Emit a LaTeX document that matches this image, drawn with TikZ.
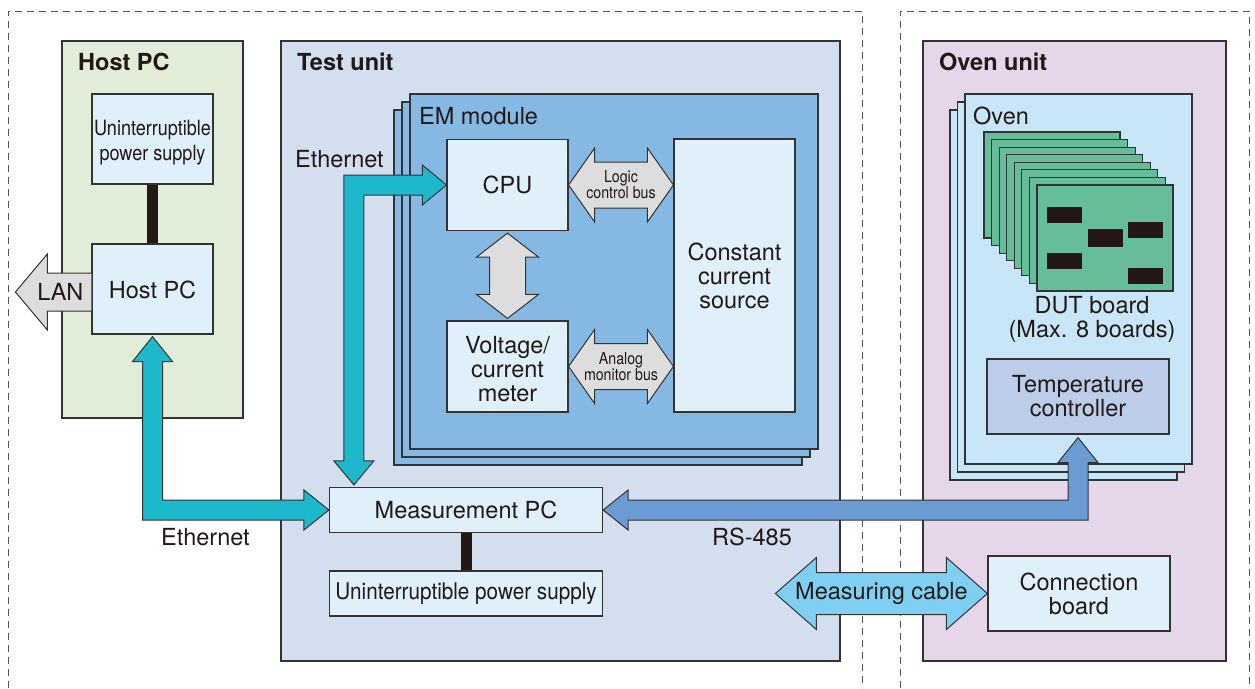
\documentclass[tikz,border=0pt]{standalone}
\usepackage{fontspec}
\setmainfont{TeX Gyre Heros}
\newfontfamily\narrowfont[FakeStretch=0.86]{TeX Gyre Heros}
\newfontfamily\upsfont[FakeStretch=0.9]{TeX Gyre Heros}
\usetikzlibrary{calc}

\definecolor{edge}{HTML}{333333}
\definecolor{framegray}{HTML}{555555}
\definecolor{cordblack}{HTML}{231816}
\definecolor{hostgreen}{HTML}{E1EDD8}
\definecolor{testblue}{HTML}{D3DEEF}
\definecolor{emblue}{HTML}{85B8E3}
\definecolor{blockfill}{HTML}{DFF0FB}
\definecolor{ovenpink}{HTML}{E6D6E9}
\definecolor{ovenfill}{HTML}{C8E6F7}
\definecolor{dutgreen}{HTML}{66BE98}
\definecolor{tcfill}{HTML}{BBCDE9}
\definecolor{netcyan}{HTML}{1DB8CC}
\definecolor{rsblue}{HTML}{6A9BD3}
\definecolor{cableblue}{HTML}{7FCFF3}
\definecolor{busgray}{HTML}{DDDDDD}

\begin{document}
\begin{tikzpicture}[x=1pt, y=-1pt, line join=miter, text=cordblack]
  \tikzset{
    unitbox/.style={draw=edge, line width=1.2pt},
    frame/.style={draw=framegray, line width=1pt, dash pattern=on 7pt off 5pt},
    block/.style={rectangle, draw=edge, line width=1.2pt, fill=blockfill, inner sep=2pt, align=center, font=\fontsize{23.5}{24}\selectfont},
    narrowblock/.style={block, font=\upsfont\fontsize{23}{25}\selectfont},
    sz/.style 2 args={minimum width=#1pt, minimum height=#2pt},
    title/.style={anchor=base west, inner sep=0pt, font=\bfseries\fontsize{23.5}{24}\selectfont},
    lbl/.style={anchor=base west, inner sep=0pt, font=\fontsize{23.5}{24}\selectfont},
    buslbl/.style={align=center, inner sep=0pt, font=\narrowfont\fontsize{16.5}{16}\selectfont},
    busarrow/.style={draw=edge, line width=1pt, fill=busgray},
    netarrow/.style={draw=edge, line width=1pt, fill=netcyan},
    rsarrow/.style={draw=edge, line width=1pt, fill=rsblue},
    cablearrow/.style={draw=edge, line width=1pt, fill=cableblue},
    power/.style={draw=cordblack, line width=11pt},
    board/.style={draw=edge, line width=1.2pt, fill=dutgreen},
    chip/.style={fill=cordblack}
  }
  % double arrows: from, to, shaft half width, head half width, head length
  \def\hbus#1#2#3#4#5{(#1) -- ++(#5,-#4) -- ++(0,{#4-#3}) -- ([shift={(-#5,-#3)}]#2) -- ++(0,{#3-#4}) -- (#2) -- ++(-#5,#4) -- ++(0,{#3-#4}) -- ([shift={(#5,#3)}]#1) -- ++(0,{#4-#3}) -- cycle}
  \def\vbus#1#2#3#4#5{(#1) -- ++(#4,#5) -- ++({#3-#4},0) -- ([shift={(#3,-#5)}]#2) -- ++({#4-#3},0) -- (#2) -- ++(-#4,-#5) -- ++({#4-#3},0) -- ([shift={(-#3,#5)}]#1) -- ++({#3-#4},0) -- cycle}

  \useasboundingbox (0,0) rectangle (1255,688);

  % dashed frames
  \draw[frame] (8,688) -- (8,11) -- (862,11) -- (862,688);
  \draw[frame] (900,688) -- (900,11) -- (1249,11) -- (1249,688);

  % host PC
  \draw[unitbox, fill=hostgreen] (62,41) rectangle (243,418);
  \node[title] at (78,70) {Host PC};
  \node[block, sz={121}{90}, font=\narrowfont\fontsize{21}{25}\selectfont] (hups) at (152.5,139) {\rule{0pt}{22pt}Uninterruptible\\power supply};
  \node[block, sz={121}{90}] (hostpc) at (152.5,289) {\rule{0pt}{20pt}Host PC};
  \draw[power] (hups.south) -- (hostpc.north);
  \coordinate (lan) at ([yshift=-3pt]hostpc.west);
  \filldraw[busarrow] ([shift={(0,-19)}]lan) -- ++(-44,0) -- ++(0,-19) -- ++(-32,38) -- ++(32,38) -- ++(0,-19) -- ++(44,0);
  \node[lbl, anchor=center] at ([xshift=-31pt]lan) {LAN};

  % test unit
  \draw[unitbox, fill=testblue] (281,41) rectangle (840,661);
  \node[title] at (297,70) {Test unit};
  \foreach \i in {2,1,0}
    \draw[unitbox, fill=emblue] ({410-8*\i},{94+8*\i}) rectangle ({818-8*\i},{449+8*\i});
  \node[lbl] at (419,124) {EM module};
  \node[block, sz={121}{91}] (cpu) at (507.5,185) {CPU};
  \node[block, sz={121}{91}] (vcm) at (507.5,366.5) {\rule{0pt}{22pt}Voltage/\\current\\meter};
  \node[block, sz={121}{273}] (ccs) at (734.5,275.5) {Constant\\current\\source};
  \coordinate (lcb) at (ccs.west |- cpu.east);
  \coordinate (amb) at (ccs.west |- vcm.east);
  \draw[busarrow] \hbus{cpu.east}{lcb}{23}{37}{26};
  \node[buslbl] at ($(cpu.east)!0.5!(lcb)$) {Logic\\control bus};
  \draw[busarrow] \hbus{vcm.east}{amb}{23}{37}{26};
  \node[buslbl] at ($(vcm.east)!0.5!(amb)$) {Analog\\monitor bus};
  \coordinate (cv1) at ([yshift=-2pt]cpu.south);
  \coordinate (cv2) at ([yshift=2pt]vcm.north);
  \draw[busarrow] \vbus{cv1}{cv2}{18}{31}{24};

  \node[block, sz={273}{45}] (meas) at (466,510) {Measurement PC};
  \node[narrowblock, sz={273}{45}] (tups) at (466,593.5) {Uninterruptible power supply};
  \draw[power] (meas.south) -- (tups.north);
  \node[lbl] at (295,167) {Ethernet};
  \node[lbl] at (161,545) {Ethernet};
  \node[lbl] at (712,545) {RS-485};

  % oven unit
  \draw[unitbox, fill=ovenpink] (923,41) rectangle (1226,661);
  \node[title] at (939,70) {Oven unit};
  \foreach \i in {2,1,0}
    \draw[unitbox, fill=ovenfill] ({965-7.5*\i},{94+8*\i}) rectangle ({1192-7.5*\i},{464+8*\i});
  \node[lbl] at (973,124) {Oven};
  \foreach \i in {7,6,...,0}
    \draw[board] ({1037-7.57*\i},{185-7.57*\i}) rectangle +(136,106);
  \fill[chip] (1047,207) rectangle +(35,16);
  \fill[chip] (1088,229) rectangle +(35,18);
  \fill[chip] (1128,222) rectangle +(35,16);
  \fill[chip] (1047,253) rectangle +(35,16);
  \fill[chip] (1128,268) rectangle +(35,16);
  \node[align=center, inner sep=0pt, font=\fontsize{23.5}{24}\selectfont] (dut) at (1092,319) {DUT board\\(Max. 8 boards)};
  \node[block, sz={182}{75}, fill=tcfill] (tc) at (1078,396.5) {Temperature\\controller};
  \node[block, sz={182}{75}] (cb) at (1079,593.5) {Connection\\board};

  % connections
  \coordinate (nt) at ([yshift=-2pt]hostpc.south);
  \draw[netarrow] (nt) -- ++(20,25) -- ++(-10,0) |- ([shift={(-25,-10)}]meas.west) -- ++(0,-10) -- (meas.west) -- ++(-25,20) -- ++(0,-10) -| ([shift={(-10,25)}]nt) -- ++(-10,0) -- cycle;
  \coordinate (et) at ([shift={(25,-2)}]meas.north west);
  \draw[netarrow] (cpu.west) -- ++(-24,-20) -- ++(0,10) -| ([shift={(-10,-24)}]et) -- ++(-10,0) -- (et) -- ++(20,-24) -- ++(-10,0) |- ([shift={(-24,10)}]cpu.west) -- ++(0,10) -- cycle;
  \coordinate (rt) at ([yshift=-3pt]tc.south);
  \draw[rsarrow] (rt) -- ++(20,25) -- ++(-10,0) |- ([shift={(25,10)}]meas.east) -- ++(0,10) -- (meas.east) -- ++(25,-20) -- ++(0,10) -| ([shift={(-10,25)}]rt) -- ++(-10,0) -- cycle;
  \coordinate (mc) at ([xshift=-212pt]cb.west);
  \draw[cablearrow] \hbus{mc}{cb.west}{21}{36}{41};
  \node[lbl, anchor=center] at ($(mc)!0.5!(cb.west)$) {Measuring cable};
\end{tikzpicture}
\end{document}
